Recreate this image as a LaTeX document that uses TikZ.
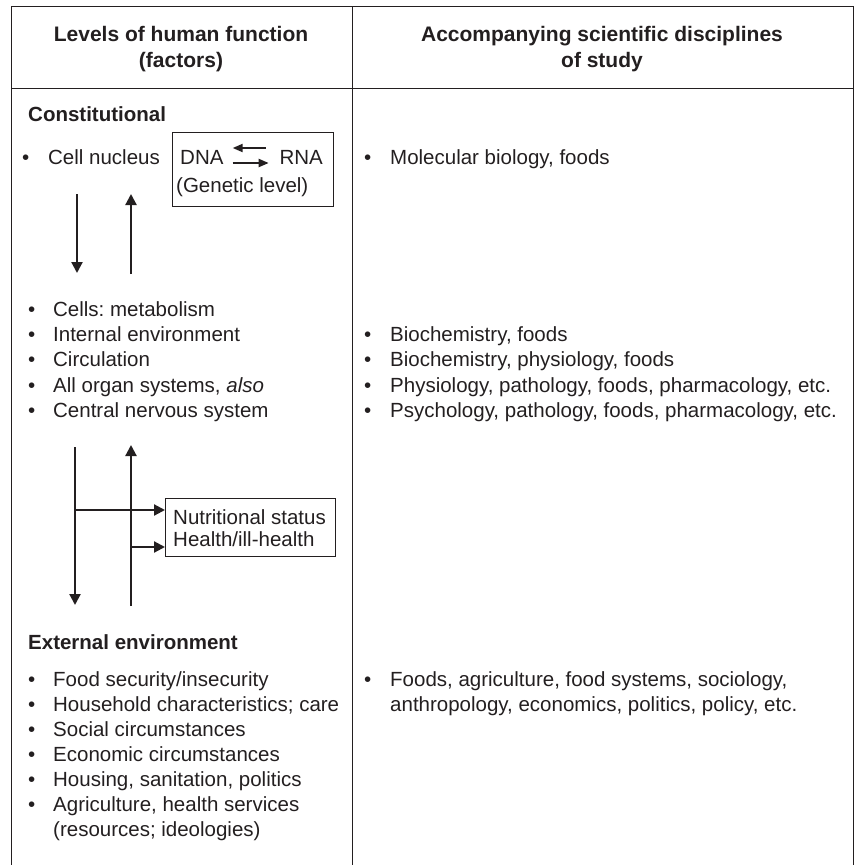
\documentclass[tikz,border=0pt]{standalone}
\usepackage{fontspec}
\setmainfont{Liberation Sans}
\usetikzlibrary{arrows.meta}
\frenchspacing

\definecolor{ink}{RGB}{35,31,32}
\newcommand{\itm}[1][25pt]{\makebox[#1][l]{\textbullet}}

\begin{document}
\begin{tikzpicture}[x=1pt, y=-1pt,
  every node/.style={inner sep=0pt, text=ink, font=\fontsize{20.5}{24.5}\selectfont},
  lbl/.style={anchor=base west},
  hdr/.style={anchor=base, font=\fontsize{21}{25}\selectfont\bfseries},
  sect/.style={anchor=base west, font=\fontsize{20.5}{24.5}\selectfont\bfseries},
  tablerule/.style={draw=ink, line width=0.9pt},
  infobox/.style={draw=ink, line width=0.9pt, anchor=north west},
  updown/.style={draw=ink, line width=2.2pt, -{Triangle[length=11pt,width=11pt]}},
  dnaarrow/.style={draw=ink, line width=2pt, -{Triangle[length=10pt,width=8pt]}}]
  \useasboundingbox (0,0) rectangle (859,865);

  % table frame
  \draw[tablerule] (11,865) -- (11,6) -- (853,6) -- (853,865);
  \draw[tablerule] (11,88) -- (853,88);
  \draw[tablerule] (352,6) -- (352,865);

  % headings
  \node[hdr] (h1a) at (181,41) {Levels of human function};
  \node[hdr] (h1b) at (181,67) {(factors)};
  \node[hdr] (h2a) at (602,41) {Accompanying scientific disciplines};
  \node[hdr] (h2b) at (602,67) {of study};

  % constitutional
  \node[sect] (const) at (28,121) {Constitutional};
  \node[lbl] (nucl) at (22,164) {\itm[26pt]Cell nucleus};
  \node[infobox, minimum width=161pt, minimum height=74pt] (gbox) at (172,132) {};
  \node[lbl] (dna) at (180,164) {DNA};
  \node[lbl, anchor=base east] (rna) at (323,164) {RNA};
  \node[lbl] (gen) at (176,192) {(Genetic level)};
  \draw[dnaarrow] ([shift={(42,-16)}]dna.base east) -- ([shift={(9,-16)}]dna.base east);
  \draw[dnaarrow] ([shift={(9,-1)}]dna.base east) -- ([shift={(45,-1)}]dna.base east);

  \coordinate (dn1s) at (77,194);
  \coordinate (dn1e) at (77,273);
  \coordinate (up1s) at (131,274);
  \coordinate (up1e) at (131,194);
  \draw[updown] (dn1s) -- (dn1e);
  \draw[updown] (up1s) -- (up1e);

  \node[lbl] (c1) at (28,316) {\itm Cells: metabolism};
  \node[lbl] (c2) at (28,341) {\itm Internal environment};
  \node[lbl] (c3) at (28,366) {\itm Circulation};
  \node[lbl] (c4) at (28,392) {\itm All organ systems, \textit{also}};
  \node[lbl] (c5) at (28,417) {\itm Central nervous system};

  \coordinate (dn2s) at (75,447);
  \coordinate (dn2e) at (75,605);
  \coordinate (up2s) at (131,606);
  \coordinate (up2e) at (131,445);
  \draw[updown] (dn2s) -- (dn2e);
  \draw[updown] (up2s) -- (up2e);

  \node[infobox, minimum width=170pt, minimum height=58pt] (nut) at (165,498) {};
  \node[lbl] (nut1) at (173,524) {Nutritional status};
  \node[lbl] (nut2) at (173,546) {Health/ill-health};
  \coordinate (br1) at (75,510);
  \coordinate (br2) at (131,547);
  \draw[updown] (br1) -- (br1 -| nut.west);
  \draw[updown] (br2) -- (br2 -| nut.west);

  % external environment
  \node[sect] (ext) at (28,649) {External environment};
  \node[lbl] (e1) at (28,686) {\itm Food security/insecurity};
  \node[lbl] (e2) at (28,711) {\itm Household characteristics; care};
  \node[lbl] (e3) at (28,736) {\itm Social circumstances};
  \node[lbl] (e4) at (28,761) {\itm Economic circumstances};
  \node[lbl] (e5) at (28,786) {\itm Housing, sanitation, politics};
  \node[lbl] (e6) at (28,811) {\itm Agriculture, health services};
  \node[lbl] (e7) at (53,836) {(resources; ideologies)};

  % disciplines
  \node[lbl] (r0) at (364,164) {\itm[26pt]Molecular biology, foods};
  \node[lbl] (r1) at (364,341) {\itm[26pt]Biochemistry, foods};
  \node[lbl] (r2) at (364,366) {\itm[26pt]Biochemistry, physiology, foods};
  \node[lbl] (r3) at (364,392) {\itm[26pt]Physiology, pathology, foods, pharmacology, etc.};
  \node[lbl] (r4) at (364,417) {\itm[26pt]Psychology, pathology, foods, pharmacology, etc.};
  \node[lbl] (r5) at (364,686) {\itm[26pt]Foods, agriculture, food systems, sociology,};
  \node[lbl] (r6) at (390,711) {anthropology, economics, politics, policy, etc.};
\end{tikzpicture}
\end{document}
